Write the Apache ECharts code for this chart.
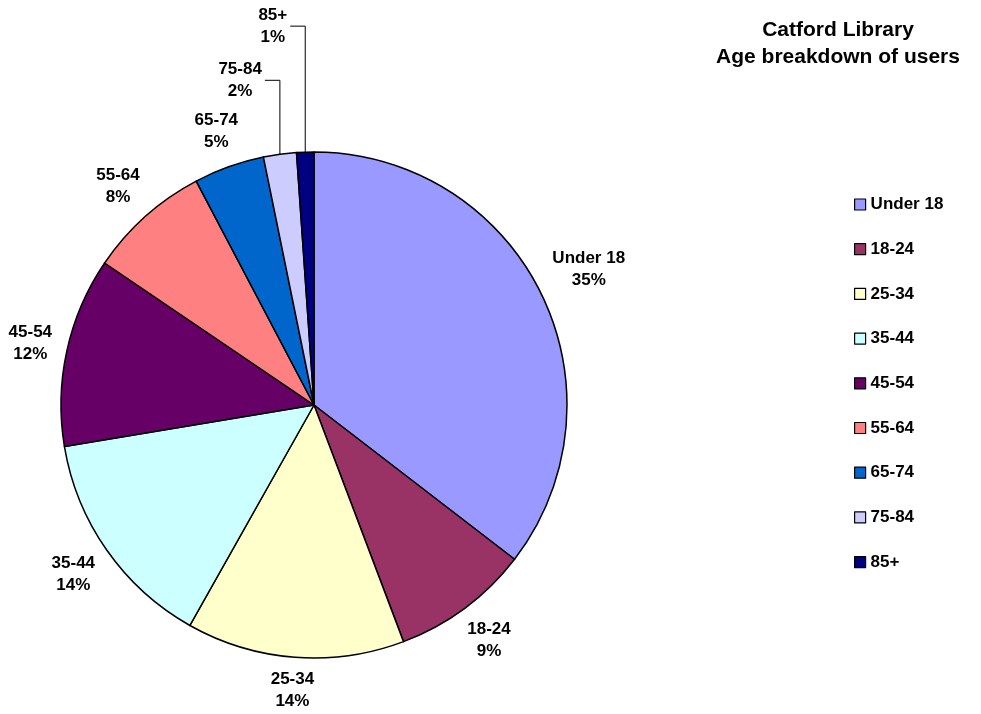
<!DOCTYPE html>
<html>
<head>
<meta charset="utf-8">
<script src="https://cdn.jsdelivr.net/npm/echarts@6/dist/echarts.min.js"></script>
<style>
html,body{margin:0;padding:0;background:#fff;}
#chart{width:981px;height:714px;}
</style>
</head>
<body>
<div id="chart"></div>
<script>
// ---- data ----
var categories = ['Under 18', '18-24', '25-34', '35-44', '45-54', '55-64', '65-74', '75-84', '85+'];
var values = [35.4, 8.8, 13.9, 14.2, 12.1, 7.8, 4.5, 2.1, 1.1];
var colors = ['#9999FF', '#993366', '#FFFFCC', '#CCFFFF', '#660066', '#FF8080', '#0066CC', '#CCCCFF', '#000080'];
var titleLines = ['Catford Library', 'Age breakdown of users'];

// ---- styles ----
var FONT = '"Liberation Sans", Arial, sans-serif';
var CX = 314, CY = 405, R = 253;
var LABEL_GAP = 12;
// leader lines (vertical length, horizontal length) for the thin slices
var leaders = { '75-84': [74, 15], '85+': [126, 15] };

var chart = echarts.init(document.getElementById('chart'), null, { renderer: 'canvas' });

var data = categories.map(function (c, i) {
  var item = { name: c, value: values[i], itemStyle: { color: colors[i] } };
  if (leaders[c]) {
    item.labelLine = { show: true, length: leaders[c][0], length2: leaders[c][1] };
  }
  return item;
});

var option = {
  backgroundColor: '#ffffff',
  animation: false,
  title: {
    text: titleLines.join('\n'),
    left: 833,
    top: 12,
    textAlign: 'center',
    textStyle: {
      fontFamily: FONT, fontWeight: 'bold', fontSize: 21, lineHeight: 27, color: '#000'
    }
  },
  legend: {
    orient: 'vertical',
    left: 854,
    top: 196,
    padding: 0,
    itemWidth: 11,
    itemHeight: 11,
    itemGap: 27.7,
    icon: 'rect',
    data: categories,
    itemStyle: { borderColor: '#000', borderWidth: 1.2 },
    textStyle: { fontFamily: FONT, fontWeight: 'bold', fontSize: 17, lineHeight: 17, color: '#000', padding: [0, 0, 0, 0] }
  },
  series: [{
    type: 'pie',
    center: [CX, CY],
    radius: R,
    startAngle: 90,
    clockwise: true,
    avoidLabelOverlap: false,
    percentPrecision: 0,
    itemStyle: { borderColor: '#000', borderWidth: 1.5 },
    emphasis: { disabled: true },
    label: {
      show: true,
      position: 'outside',
      formatter: '{c|{b}}\n{c|{d}%}',
      color: '#000',
      rich: {
        c: { fontFamily: FONT, fontWeight: 'bold', fontSize: 17, lineHeight: 22, color: '#000', align: 'center' }
      }
    },
    labelLine: { show: false, lineStyle: { color: '#000', width: 1 } },
    labelLayout: function (params) {
      var s = chart.getModel().getSeriesByIndex(0).getData();
      var lay = s.getItemLayout(params.dataIndex);
      var mid = (lay.startAngle + lay.endAngle) / 2;
      var dx = Math.cos(mid), dy = Math.sin(mid);
      var px = lay.cx + lay.r * dx, py = lay.cy + lay.r * dy;
      var name = categories[params.dataIndex];
      if (leaders[name]) {
        var L = leaders[name][0], L2 = leaders[name][1];
        return {
          x: px - L2 - 3,
          y: py - L,
          align: 'right',
          verticalAlign: 'middle',
          labelLinePoints: [[px, py], [px, py - L], [px - L2, py - L]]
        };
      }
      var hw = params.labelRect.width / 2, hh = params.labelRect.height / 2;
      var support = hw * Math.abs(dx) + hh * Math.abs(dy);
      var d = lay.r + LABEL_GAP + support;
      return {
        x: lay.cx + d * dx,
        y: lay.cy + d * dy,
        align: 'center',
        verticalAlign: 'middle'
      };
    },
    data: data
  }]
};
chart.setOption(option);
</script>
</body>
</html>
